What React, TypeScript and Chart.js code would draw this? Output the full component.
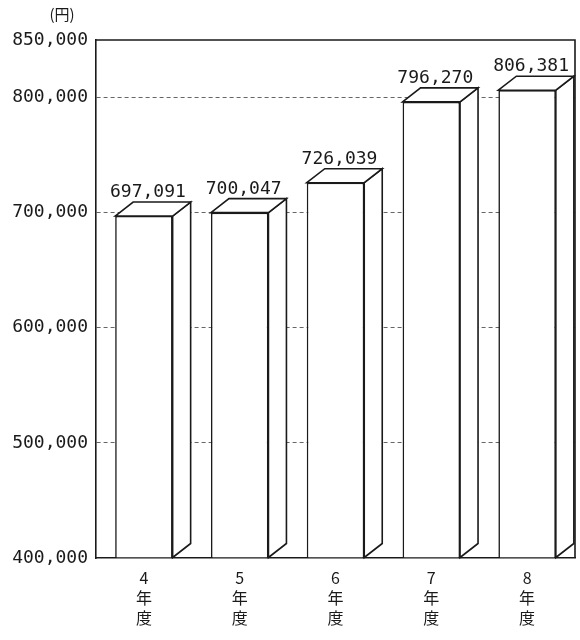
import React, { useEffect, useRef } from "react";
import { Chart, registerables } from "chart.js";

Chart.register(...registerables);

const categories: string[][] = [["4", "年", "度"], ["5", "年", "度"], ["6", "年", "度"], ["7", "年", "度"], ["8", "年", "度"]];
const values: number[] = [697091, 700047, 726039, 796270, 806381];
const yTicks: number[] = [400000, 500000, 600000, 700000, 800000, 850000];
const unitLabel = "(円)";

const DEPTH_X = 18;
const DEPTH_Y = 14;
const MONO = "'DejaVu Sans Mono', 'Liberation Mono', monospace";
const fmt = (v: number) => v.toLocaleString("en-US");

const bar3d = {
  id: "bar3d",
  afterDatasetsDraw(chart: any) {
    const ctx = chart.ctx;
    const meta = chart.getDatasetMeta(0);
    ctx.save();
    ctx.strokeStyle = "#1a1a1a";
    ctx.lineWidth = 1.6;
    ctx.lineJoin = "miter";
    meta.data.forEach((el: any, i: number) => {
      const { x, y, base, width } = el.getProps(["x", "y", "base", "width"], true);
      const l = x - width / 2;
      const r = x + width / 2;
      ctx.fillStyle = "#ffffff";
      // side face
      ctx.beginPath();
      ctx.moveTo(r, base);
      ctx.lineTo(r + DEPTH_X, base - DEPTH_Y);
      ctx.lineTo(r + DEPTH_X, y - DEPTH_Y);
      ctx.lineTo(r, y);
      ctx.closePath();
      ctx.fill();
      ctx.stroke();
      // top face
      ctx.beginPath();
      ctx.moveTo(l, y);
      ctx.lineTo(l + DEPTH_X, y - DEPTH_Y);
      ctx.lineTo(r + DEPTH_X, y - DEPTH_Y);
      ctx.lineTo(r, y);
      ctx.closePath();
      ctx.fill();
      ctx.stroke();
      // value label
      ctx.fillStyle = "#1a1a1a";
      ctx.font = `18px ${MONO}`;
      ctx.textAlign = "center";
      ctx.textBaseline = "alphabetic";
      ctx.fillText(fmt(values[i]), x + 4, y - DEPTH_Y - 5);
    });
    ctx.restore();
  },
  afterDraw(chart: any) {
    const ctx = chart.ctx;
    const a = chart.chartArea;
    ctx.save();
    ctx.strokeStyle = "#1a1a1a";
    ctx.lineWidth = 1.6;
    ctx.beginPath();
    ctx.moveTo(a.left, a.top);
    ctx.lineTo(a.right, a.top);
    ctx.lineTo(a.right, a.bottom);
    ctx.stroke();
    ctx.fillStyle = "#1a1a1a";
    ctx.font = "15px 'Noto Sans CJK JP', sans-serif";
    ctx.textAlign = "center";
    ctx.textBaseline = "middle";
    ctx.fillText(unitLabel, a.left - 34, 14);
    ctx.restore();
  },
};

export default function App() {
  const ref = useRef<HTMLCanvasElement | null>(null);
  useEffect(() => {
    document.body.style.margin = "0";
    const canvas = ref.current!;
    const chart = new Chart(canvas, {
      type: "bar",
      data: {
        labels: categories,
        datasets: [
          {
            data: values,
            base: 400000,
            backgroundColor: "#ffffff",
            borderColor: "#1a1a1a",
            borderWidth: 1.6,
            categoryPercentage: 1,
            barPercentage: 0.6,
          },
        ],
      },
      options: {
        responsive: false,
        animation: false,
        layout: { padding: { top: 40, right: 5, left: 0, bottom: 0 } },
        plugins: { legend: { display: false }, tooltip: { enabled: false } },
        scales: {
          x: {
            grid: { display: false },
            border: { display: true, color: "#1a1a1a", width: 1.6 },
            ticks: {
              color: "#1a1a1a",
              font: { family: "'Noto Sans CJK JP', sans-serif", size: 16, lineHeight: 1.25 },
              padding: 2,
              maxRotation: 0,
            },
            afterFit: (axis: any) => {
              axis.height = 82;
            },
          },
          y: {
            min: 400000,
            max: 850000,
            afterBuildTicks: (axis: any) => {
              axis.ticks = yTicks.map((v) => ({ value: v }));
            },
            border: { display: true, color: "#1a1a1a", width: 1.6, dash: [4, 3] },
            grid: {
              drawTicks: false,
              color: (c: any) =>
                c.tick && (c.tick.value === 400000 || c.tick.value === 850000) ? "rgba(0,0,0,0)" : "#666",
              lineWidth: 1,
            },
            ticks: {
              color: "#1a1a1a",
              font: { family: MONO, size: 18 },
              padding: 8,
              callback: (v: any) => fmt(Number(v)),
            },
            afterFit: (axis: any) => {
              axis.width = 96;
            },
          },
        },
      },
      plugins: [bar3d],
    } as any);
    return () => chart.destroy();
  }, []);
  return <canvas ref={ref} width={580} height={640} style={{ display: "block" }} />;
}
